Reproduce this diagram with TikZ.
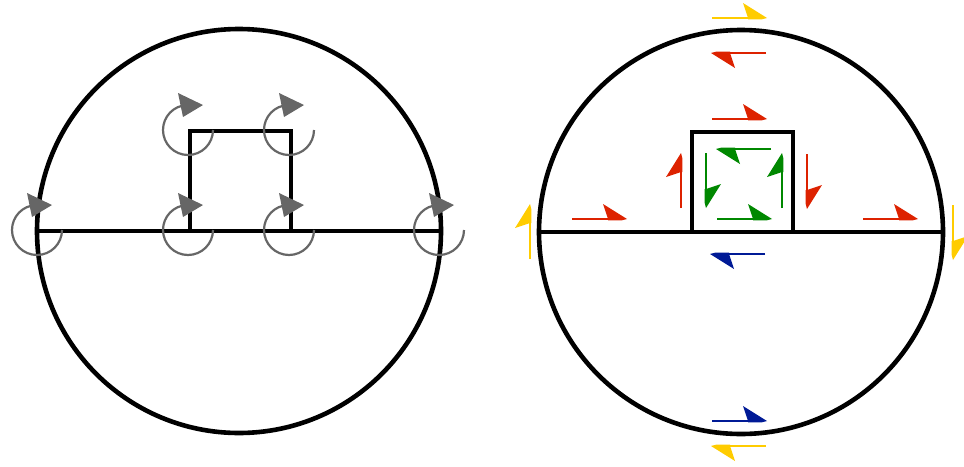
\documentclass[tikz,border=0pt]{standalone}
\begin{document}
\begin{tikzpicture}[x=1pt,y=-1pt,
  frame/.style={draw=black,line width=4.6pt},
  rotarc/.style={draw=gray40,line width=2.2pt},
  harpoon/.pic={
    \draw[line width=2.6pt,draw=#1] (-55,0) -- (-10,0);
    \fill[#1] (0,0) -- (-24,-15) -- (-19,0) -- (-19,1.3) -- (-5,1.3) -- cycle;
  },
  rotor/.pic={
    \draw[rotarc] (25,0) arc[start angle=0,end angle=-268,radius=25pt];
    \fill[gray40] (-10,-37) -- (15,-25) -- (-5,-13) -- cycle;
  }]
\definecolor{gray40}{HTML}{666666}
\definecolor{hy}{HTML}{FFCC00}
\definecolor{hr}{HTML}{DD2200}
\definecolor{hg}{HTML}{008800}
\definecolor{hb}{HTML}{001A96}
\useasboundingbox (0,0) rectangle (964,466);
% left figure
\coordinate (LC) at (239,231);
\coordinate (LW) at (37,231);
\coordinate (LE) at (441,231);
\coordinate (LA) at (190,231);
\coordinate (LB) at (190,131);
\coordinate (LD) at (291,131);
\coordinate (LF) at (291,231);
\draw[frame] (LC) circle[radius=202pt];
\draw[frame] (LW) -- (LE);
\draw[frame,line join=miter] (LA) -- (LB) -- (LD) -- (LF);
\pic at (37,230) {rotor};
\pic at (188,130) {rotor};
\pic at (289,130) {rotor};
\pic at (188,230) {rotor};
\pic at (289,230) {rotor};
\pic at (439,230) {rotor};
% right figure
\coordinate (RC) at (741,232);
\coordinate (RW) at (539,232);
\coordinate (RE) at (943,232);
\coordinate (RA) at (692,232);
\coordinate (RB) at (692,132);
\coordinate (RD) at (793,132);
\coordinate (RF) at (793,232);
\draw[frame] (RC) circle[radius=202pt];
\draw[frame] (RW) -- (RE);
\draw[frame,line join=miter] (RA) -- (RB) -- (RD) -- (RF);
% harpoons pointing right, barb up
\pic at (767,18) {harpoon=hy};
\pic at (767,119) {harpoon=hr};
\pic at (627,219) {harpoon=hr};
\pic at (918,219) {harpoon=hr};
\pic at (772,219) {harpoon=hg};
\pic at (767,421) {harpoon=hb};
% pointing up, barb left
\pic[rotate=90] at (681,153) {harpoon=hr};
\pic[rotate=90] at (782,153) {harpoon=hg};
\pic[rotate=90] at (530,204) {harpoon=hy};
% pointing left, barb down
\pic[rotate=180] at (711,53) {harpoon=hr};
\pic[rotate=180] at (716,149) {harpoon=hg};
\pic[rotate=180] at (710,254) {harpoon=hb};
\pic[rotate=180] at (711,446) {harpoon=hy};
% pointing down, barb right
\pic[rotate=270] at (807,209) {harpoon=hr};
\pic[rotate=270] at (706,208) {harpoon=hg};
\pic[rotate=270] at (953,260) {harpoon=hy};
\end{tikzpicture}
\end{document}
